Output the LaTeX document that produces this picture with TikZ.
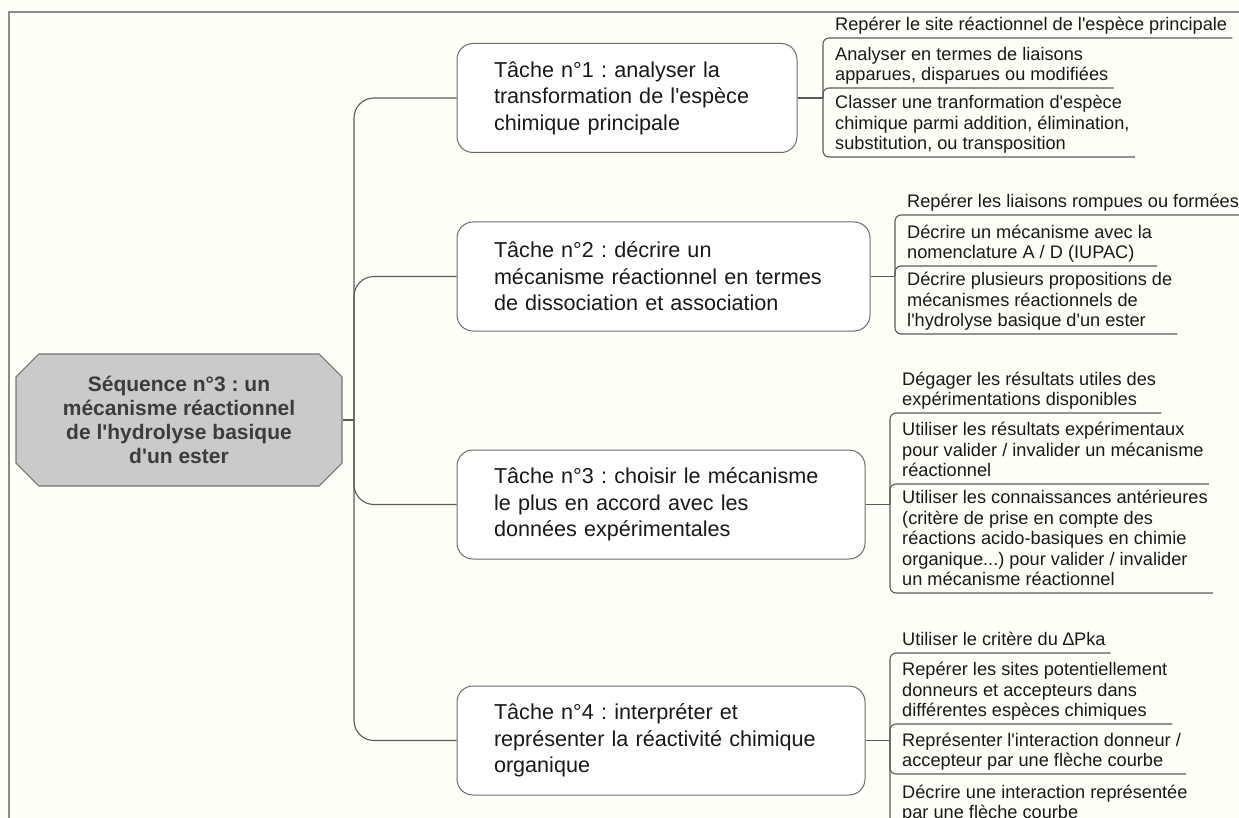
\documentclass[tikz,border=0pt]{standalone}
\usepackage{fontspec}
\newfontfamily\liberation{Liberation Sans}
\usetikzlibrary{shapes.misc}
\pgfdeclarelayer{edgelayer}
\pgfdeclarelayer{nodelayer}
\pgfsetlayers{edgelayer,nodelayer,main}
\frenchspacing
\definecolor{paper}{HTML}{FFFFF8}
\definecolor{rootfill}{HTML}{CACACA}
\definecolor{linegray}{HTML}{5A5A5A}
\definecolor{rootink}{HTML}{3C3C3C}
\definecolor{framegray}{HTML}{8A8A8A}
\tikzstyle{root_topic}=[chamfered rectangle,chamfered rectangle xsep=20pt,draw=linegray!85,fill=rootfill,line width=1.1pt,minimum width=326pt,minimum height=132pt,align=center,text=rootink,font=\liberation\fontsize{21}{24}\selectfont\bfseries]
\tikzstyle{task}=[rectangle,rounded corners=16pt,draw=linegray!90,fill=white,line width=1pt,minimum height=109pt,inner xsep=37pt,align=left,text=black!90,font=\liberation\fontsize{21.6}{26.5}\selectfont]
\tikzstyle{leaf}=[anchor=south west,inner xsep=5pt,inner ysep=3pt,text depth=4pt,align=left,text=black!90,font=\liberation\fontsize{18.2}{20.5}\selectfont]
\tikzstyle{branch}=[draw=linegray,line width=1.1pt,rounded corners=20pt]
\tikzstyle{twig}=[draw=linegray,line width=1.1pt,rounded corners=6pt]

\begin{document}
\begin{tikzpicture}[x=1pt,y=-1pt]
	\useasboundingbox (0,0) rectangle (1239,818);
	\begin{pgfonlayer}{nodelayer}
		\node [style=root_topic] (root) at (179,420) {Séquence n°3 : un\\mécanisme réactionnel\\de l'hydrolyse basique\\d'un ester};
		\node [style=task,text width=266pt] (t1) at (627,98) {Tâche n°1 : analyser la\\transformation de l'espèce\\chimique principale};
		\node [style=task,text width=339pt] (t2) at (663.5,276.5) {Tâche n°2 : décrire un\\mécanisme réactionnel en termes\\de dissociation et association};
		\node [style=task,text width=334pt] (t3) at (661,504.5) {Tâche n°3 : choisir le mécanisme\\le plus en accord avec les\\données expérimentales};
		\node [style=task,text width=334pt] (t4) at (661,740.5) {Tâche n°4 : interpréter et\\représenter la réactivité chimique\\organique};
		\node [style=leaf] (l11) at (830,38) {Repérer le site réactionnel de l'espèce principale};
		\node [style=leaf] (l12) at (830,88) {Analyser en termes de liaisons\\apparues, disparues ou modifiées};
		\node [style=leaf] (l13) at (830,157) {Classer une tranformation d'espèce\\chimique parmi addition, élimination,\\substitution, ou transposition};
		\node [style=leaf] (l21) at (902,215) {Repérer les liaisons rompues ou formées};
		\node [style=leaf] (l22) at (902,266) {Décrire un mécanisme avec la\\nomenclature A / D (IUPAC)};
		\node [style=leaf] (l23) at (902,334) {Décrire plusieurs propositions de\\mécanismes réactionnels de\\l'hydrolyse basique d'un ester};
		\node [style=leaf] (l31) at (897,413) {Dégager les résultats utiles des\\expérimentations disponibles};
		\node [style=leaf] (l32) at (897,484) {Utiliser les résultats expérimentaux\\pour valider / invalider un mécanisme\\réactionnel};
		\node [style=leaf] (l33) at (897,593) {Utiliser les connaissances antérieures\\(critère de prise en compte des\\réactions acido-basiques en chimie\\organique...) pour valider / invalider\\un mécanisme réactionnel};
		\node [style=leaf] (l41) at (897,653) {Utiliser le critère du ∆Pka};
		\node [style=leaf] (l42) at (897,724) {Repérer les sites potentiellement\\donneurs et accepteurs dans\\différentes espèces chimiques};
		\node [style=leaf] (l43) at (897,774) {Représenter l'interaction donneur /\\accepteur par une flèche courbe};
		\node [style=leaf] (l44) at (897,826) {Décrire une interaction représentée\\par une flèche courbe};
	\end{pgfonlayer}
	\begin{pgfonlayer}{edgelayer}
		\fill [paper] (0,0) rectangle (1239,818);
		\draw [framegray,line width=1.2pt] (9,818) |- (1239,12);
		\coordinate (trunk) at (354,420);
		\coordinate (b1) at (823,98);
		\coordinate (b2) at (895,276.5);
		\coordinate (b3) at (890,504.5);
		\coordinate (b4) at (890,740.5);
		% sequence -> tasks
		\draw [style=branch] (root.east) -- (trunk);
		\draw [style=branch] (trunk) |- (t1.west);
		\draw [style=branch] (trunk) |- (t2.west);
		\draw [style=branch] (trunk) |- (t3.west);
		\draw [style=branch] (trunk) |- (t4.west);
		% tasks -> skills
		\draw [style=branch] (t1.east) -- (b1);
		\draw [style=twig] (b1) |- (l11.south east);
		\draw [style=twig] (b1) |- (l12.south east);
		\draw [style=twig] (b1) |- (l13.south east);
		\draw [style=branch] (t2.east) -- (b2);
		\draw [style=twig] (b2) |- (l21.south east);
		\draw [style=twig] (b2) |- (l22.south east);
		\draw [style=twig] (b2) |- (l23.south east);
		\draw [style=branch] (t3.east) -- (b3);
		\draw [style=twig] (b3) |- (l31.south east);
		\draw [style=twig] (b3) |- (l32.south east);
		\draw [style=twig] (b3) |- (l33.south east);
		\draw [style=branch] (t4.east) -- (b4);
		\draw [style=twig] (b4) |- (l41.south east);
		\draw [style=twig] (b4) |- (l42.south east);
		\draw [style=twig] (b4) |- (l43.south east);
		\draw [style=twig] (b4) |- (l44.south east);
	\end{pgfonlayer}
\end{tikzpicture}
\end{document}
